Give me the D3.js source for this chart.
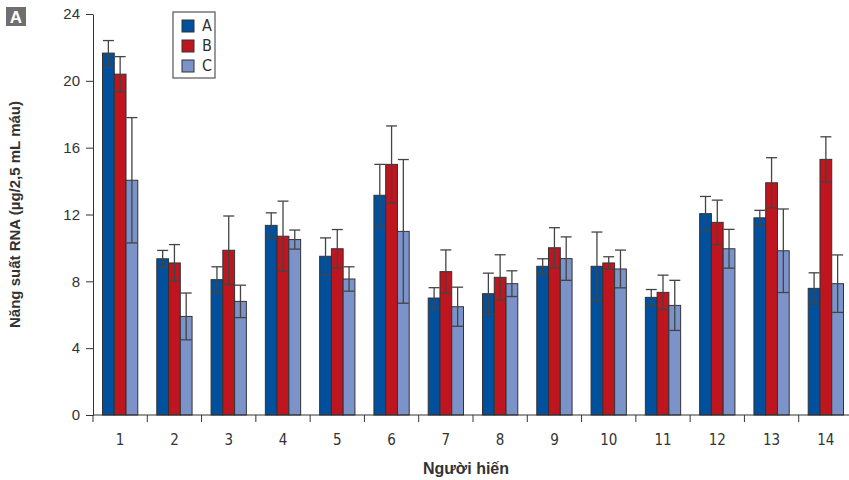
<!DOCTYPE html>
<html>
<head>
<meta charset="utf-8">
<script src="https://cdn.jsdelivr.net/npm/d3@7"></script>
<style>
  body { margin: 0; background: #fff; }
  svg text { fill: #333; }
</style>
</head>
<body>
<div id="chart"></div>
<script>
// data
const donors = ["1", "2", "3", "4", "5", "6", "7", "8", "9", "10", "11", "12", "13", "14"];
const seriesNames = ["A", "B", "C"];
const valuesA = [21.66, 9.35, 8.1, 11.35, 9.5, 13.15, 7.0, 7.26, 8.9, 8.9, 7.04, 12.05, 11.8, 7.58];
const valuesB = [20.4, 9.1, 9.86, 10.7, 9.95, 15.0, 8.58, 8.24, 10.01, 9.1, 7.34, 11.53, 13.9, 15.3];
const valuesC = [14.05, 5.9, 6.8, 10.5, 8.14, 10.99, 6.48, 7.86, 9.36, 8.74, 6.56, 9.95, 9.83, 7.86];
const errA = [0.75, 0.5, 0.77, 0.75, 1.1, 1.85, 0.62, 1.23, 0.45, 2.05, 0.47, 1.03, 0.45, 0.93];
const errB = [1.05, 1.1, 2.05, 2.1, 1.15, 2.3, 1.3, 1.35, 1.2, 0.37, 1.03, 1.33, 1.5, 1.35];
const errC = [3.75, 1.4, 0.97, 0.57, 0.73, 4.3, 1.17, 0.77, 1.3, 1.13, 1.5, 1.16, 2.5, 1.72];
const yTicks = [0, 4, 8, 12, 16, 20, 24];
const colors = ["#00509e", "#be151f", "#7b93c8"];

const width = 849, height = 480;
const margin = {top: 14, right: -4, bottom: 65, left: 93};

const svg = d3.select("#chart").append("svg")
    .attr("width", width)
    .attr("height", height)
    .style("font-family", "'Liberation Sans Narrow', 'DejaVu Sans Condensed', sans-serif");

// build rows for the grouped bars
const means = [valuesA, valuesB, valuesC];
const errs = [errA, errB, errC];
const rows = donors.map((d, i) => ({
  donor: d,
  bars: seriesNames.map((s, j) => ({key: s, value: means[j][i], err: errs[j][i], color: colors[j]}))
}));

const x0 = d3.scaleBand()
    .domain(donors)
    .range([margin.left, width - margin.right])
    .paddingInner(0.35)
    .paddingOuter(0.175);

const x1 = d3.scaleBand()
    .domain(seriesNames)
    .range([0, x0.bandwidth()]);

const y = d3.scaleLinear()
    .domain([0, 24])
    .range([height - margin.bottom, margin.top]);

// bars
const groups = svg.append("g")
  .selectAll("g")
  .data(rows)
  .join("g")
    .attr("transform", d => `translate(${x0(d.donor)},0)`);

groups.selectAll("rect")
  .data(d => d.bars)
  .join("rect")
    .attr("x", d => x1(d.key))
    .attr("y", d => y(d.value))
    .attr("width", x1.bandwidth())
    .attr("height", d => y(0) - y(d.value))
    .attr("fill", d => d.color)
    .attr("stroke", "#333")
    .attr("stroke-width", 1);

// error bars
const eb = groups.selectAll("g.err")
  .data(d => d.bars)
  .join("g")
    .attr("class", "err")
    .attr("stroke", "#444")
    .attr("stroke-width", 1.3);

eb.append("line")
    .attr("x1", d => x1(d.key) + x1.bandwidth() / 2)
    .attr("x2", d => x1(d.key) + x1.bandwidth() / 2)
    .attr("y1", d => y(d.value + d.err))
    .attr("y2", d => y(d.value - d.err));

[1, -1].forEach(sign => {
  eb.append("line")
      .attr("x1", d => x1(d.key) + x1.bandwidth() / 2 - 5.5)
      .attr("x2", d => x1(d.key) + x1.bandwidth() / 2 + 5.5)
      .attr("y1", d => y(d.value + sign * d.err))
      .attr("y2", d => y(d.value + sign * d.err));
});

// y axis
const yAxis = svg.append("g")
    .attr("transform", `translate(${margin.left},0)`)
    .call(d3.axisLeft(y).tickValues(yTicks).tickSize(7).tickPadding(6).tickSizeOuter(0));
yAxis.selectAll("text").style("font-size", "15px").attr("fill", "#333");
yAxis.selectAll("line, path").attr("stroke", "#333");

// x axis: ticks sit on the band edges
const xAxis = svg.append("g")
    .attr("transform", `translate(0,${y(0)})`);
xAxis.append("line")
    .attr("x1", margin.left).attr("x2", width)
    .attr("stroke", "#333");
xAxis.selectAll("line.tick")
  .data(donors)
  .join("line")
    .attr("class", "tick")
    .attr("x1", d => x0(d) - x0.step() * x0.paddingInner() / 2)
    .attr("x2", d => x0(d) - x0.step() * x0.paddingInner() / 2)
    .attr("y1", 0).attr("y2", 7)
    .attr("stroke", "#333");
xAxis.selectAll("text")
  .data(donors)
  .join("text")
    .attr("x", d => x0(d) + x0.bandwidth() / 2)
    .attr("y", 30)
    .attr("text-anchor", "middle")
    .style("font-size", "15px")
    .text(d => d);

// axis titles
svg.append("text")
    .attr("x", 466)
    .attr("y", 474)
    .attr("text-anchor", "middle")
    .style("font-family", "'Liberation Sans', Arial, sans-serif")
    .style("font-weight", "bold")
    .style("font-size", "16px")
    .attr("fill", "#111")
    .text("Người hiến");

svg.append("text")
    .attr("transform", `translate(20,${(y(0) + y(24)) / 2}) rotate(-90)`)
    .attr("text-anchor", "middle")
    .style("font-family", "'Liberation Sans', Arial, sans-serif")
    .style("font-weight", "bold")
    .style("font-size", "15px")
    .attr("fill", "#111")
    .text("Năng suất RNA (µg/2,5 mL máu)");

// panel letter
svg.append("rect")
    .attr("x", 6).attr("y", 7).attr("width", 20).attr("height", 19)
    .attr("fill", "#6f6f6f");
svg.append("text")
    .attr("x", 16).attr("y", 23)
    .attr("text-anchor", "middle")
    .style("font-family", "'Liberation Sans', Arial, sans-serif")
    .style("font-weight", "bold")
    .style("font-size", "17px")
    .style("fill", "#fff")
    .text("A");

// legend
const legend = svg.append("g").attr("transform", "translate(173,12)");
legend.append("rect")
    .attr("width", 42).attr("height", 66)
    .attr("fill", "#fff")
    .attr("stroke", "#555")
    .attr("stroke-width", 1.2);
const li = legend.selectAll("g.item")
  .data(seriesNames)
  .join("g")
    .attr("class", "item")
    .attr("transform", (d, i) => `translate(9,${8 + i * 20})`);
li.append("rect")
    .attr("width", 12).attr("height", 12)
    .attr("fill", (d, i) => colors[i])
    .attr("stroke", "#333");
li.append("text")
    .attr("x", 20).attr("y", 11)
    .style("font-size", "16px")
    .text(d => d);
</script>
</body>
</html>
